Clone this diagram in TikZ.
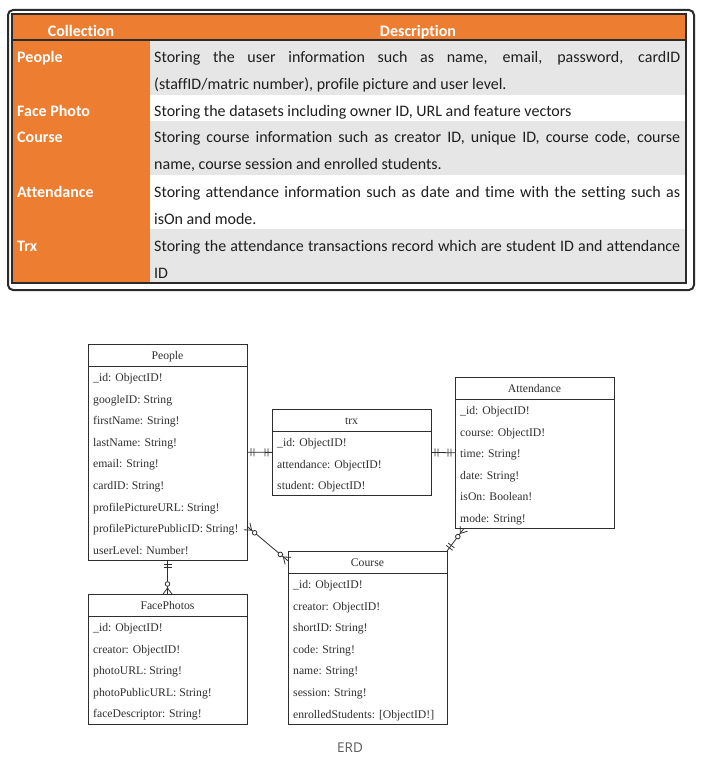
\documentclass[tikz,border=0pt]{standalone}
\usepackage{fontspec}
\usetikzlibrary{calc,decorations.markings}
\newfontfamily\tabfont[Ligatures={NoCommon}]{Carlito}
\newfontfamily\erfont{Liberation Serif}
\newfontfamily\capfont{Open Sans}
\definecolor{tborange}{HTML}{ED7D31}
\definecolor{tbgray}{HTML}{E7E6E6}
\definecolor{tbtext}{HTML}{1F1F1F}
\definecolor{tbline}{HTML}{2B2B2B}
\definecolor{ergray}{HTML}{2E2E2E}
\definecolor{capgray}{HTML}{5A5A5A}
\tikzset{
  hdr/.style={anchor=base, inner sep=0pt, text=white, font=\tabfont\bfseries\fontsize{16pt}{18pt}\selectfont},
  lbl/.style={anchor=base west, inner sep=0pt, text=white, font=\tabfont\bfseries\fontsize{16pt}{18pt}\selectfont},
  desc/.style={anchor=base west, inner sep=0pt, text=tbtext, font=\tabfont\fontsize{16pt}{18pt}\selectfont},
  ebox/.style={draw=ergray, line width=0.8pt, anchor=north west, minimum width=159pt, inner sep=0pt, outer sep=0pt, fill=white},
  etitle/.style={anchor=base, inner sep=0pt, text=ergray, font=\erfont\fontsize{11.7pt}{13pt}\selectfont},
  eattr/.style={anchor=base west, inner sep=0pt, text=ergray, font=\erfont\fontsize{11.7pt}{13pt}\selectfont},
  eline/.style={draw=ergray, line width=0.8pt},
  rel/.style={draw=ergray, line width=0.8pt},
  erm/.style={draw=ergray, line width=0.8pt},
  oneone start/.style={postaction={decorate, decoration={markings,
    mark=at position 4pt with {\draw[erm] (0pt,-4pt) -- (0pt,4pt);},
    mark=at position 7pt with {\draw[erm] (0pt,-4pt) -- (0pt,4pt);}}}},
  oneone end/.style={postaction={decorate, decoration={markings,
    mark=at position -7pt with {\draw[erm] (0pt,-4pt) -- (0pt,4pt);},
    mark=at position -4pt with {\draw[erm] (0pt,-4pt) -- (0pt,4pt);}}}},
  zeromany start/.style={postaction={decorate, decoration={markings,
    mark=at position 6pt with {\draw[erm] (0pt,0pt) -- (-6pt,4.5pt) (0pt,0pt) -- (-6pt,-4.5pt);},
    mark=at position 10pt with {\draw[erm, fill=white] (0pt,0pt) circle (2.3pt);}}}},
  zeromany end/.style={postaction={decorate, decoration={markings,
    mark=at position -10pt with {\draw[erm, fill=white] (0pt,0pt) circle (2.3pt);},
    mark=at position -6pt with {\draw[erm] (0pt,0pt) -- (6pt,4.5pt) (0pt,0pt) -- (6pt,-4.5pt);}}}},
}
\newcommand\erentity[6]{%
  \pgfmathsetmacro\eh{22+21.6*#4}%
  \node[ebox, minimum height=\eh pt] (#1) at (#2,#3) {};
  \node[etitle] (#1-title) at ($(#1.north)+(0,15.5)$) {#5};
  \draw[eline] ($(#1.north west)+(0,22)$) -- ($(#1.north east)+(0,22)$);
  \foreach \r [count=\i from 0] in {#6} {
    \node[eattr] (#1-\i) at ($(#1.north west)+(5,37.5+21.6*\i)$) {\r};
  }
}
\begin{document}
\begin{tikzpicture}[x=1pt,y=-1pt]
\useasboundingbox[fill=white] (0,0) rectangle (702,765);
% ---------- table ----------
\fill[tborange] (12,14) rectangle (150,283);
\fill[tborange] (12,14) rectangle (686,40);
\fill[tbgray] (150,40) rectangle (686,95);
\fill[tbgray] (150,121) rectangle (686,175);
\fill[tbgray] (150,229) rectangle (686,283);
\draw[tbline, line width=1.2pt] (12,14) rectangle (686,283);
\draw[tbline, line width=1.2pt] (12,40) -- (686,40);
\draw[tbline, line width=2pt, rounded corners=5pt] (8,10) rectangle (694,290);
\node[hdr] (hcol) at (81,37) {Collection};
\node[hdr] (hdesc) at (418,37) {Description};
\node[lbl] (lpeople) at (17,62.5) {People};
\node[lbl] (lface) at (17,116.5) {Face Photo};
\node[lbl] (lcourse) at (17,142.5) {Course};
\node[lbl] (latt) at (17,197.5) {Attendance};
\node[lbl] (ltrx) at (17,251.5) {Trx};
\node[desc] (dpeople1) at (154,62.5) {\makebox[526pt][s]{Storing the user information such as name, email, password, cardID}};
\node[desc] (dpeople2) at (154,89.5) {(staffID/matric number), profile picture and user level.};
\node[desc] (dface) at (154,116.5) {Storing the datasets including owner ID, URL and feature vectors};
\node[desc] (dcourse1) at (154,142.5) {\makebox[526pt][s]{Storing course information such as creator ID, unique ID, course code, course}};
\node[desc] (dcourse2) at (154,169.5) {name, course session and enrolled students.};
\node[desc] (datt1) at (154,197.5) {\makebox[526pt][s]{Storing attendance information such as date and time with the setting such as}};
\node[desc] (datt2) at (154,224.5) {isOn and mode.};
\node[desc] (dtrx1) at (154,251.5) {\makebox[526pt][s]{Storing the attendance transactions record which are student ID and attendance}};
\node[desc] (dtrx2) at (154,278.5) {ID};
% ---------- ERD ----------
\erentity{people}{88}{344}{9}{People}{\_id: ObjectID!, googleID: String, firstName: String!, lastName: String!, email: String!, cardID: String!, profilePictureURL: String!, profilePicturePublicID: String!, userLevel: Number!}
\erentity{trx}{272}{409}{3}{trx}{\_id: ObjectID!, attendance: ObjectID!, student: ObjectID!}
\erentity{att}{455}{377}{6}{Attendance}{\_id: ObjectID!, course: ObjectID!, time: String!, date: String!, isOn: Boolean!, mode: String!}
\erentity{course}{288}{551}{7}{Course}{\_id: ObjectID!, creator: ObjectID!, shortID: String!, code: String!, name: String!, session: String!, {enrolledStudents: [ObjectID!]}}
\erentity{face}{88}{594}{5}{FacePhotos}{\_id: ObjectID!, creator: ObjectID!, photoURL: String!, photoPublicURL: String!, faceDescriptor: String!}
\draw[rel, oneone start, oneone end] (people.east) -- (trx.west);
\draw[rel, oneone start, oneone end] (trx.east) -- (att.west);
\draw[rel, oneone start, zeromany end] (people.south) -- (face.north);
\draw[rel, zeromany start, zeromany end] (people.-43.25) -- (course.136.4);
\draw[rel, oneone start, zeromany end] (course.north east) -- (att.-133.4);
\node[text=capgray, font=\capfont\fontsize{13.5pt}{16pt}\selectfont, inner sep=0pt] (cap) at (350,748) {ERD};
\end{tikzpicture}
\end{document}
